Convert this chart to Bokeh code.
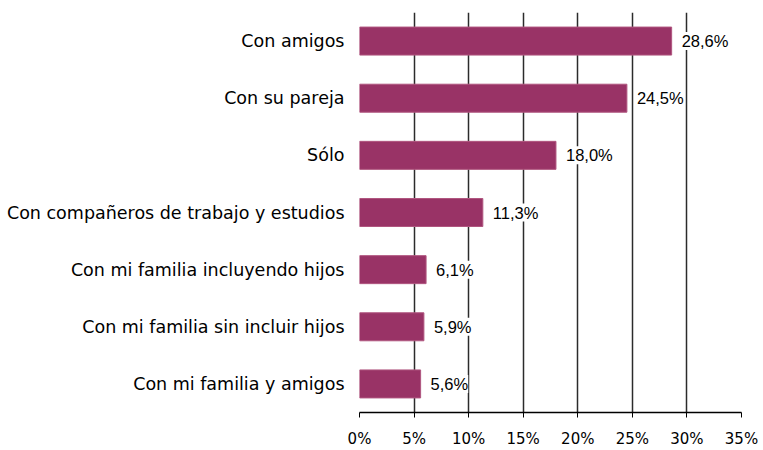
from bokeh.plotting import figure
from bokeh.models import ColumnDataSource, FactorRange, FixedTicker, LabelSet, CustomJSTickFormatter
from bokeh.core.properties import value
from bokeh.embed import file_html
from bokeh.resources import INLINE

categories = ["Con amigos", "Con su pareja", "Sólo",
              "Con compañeros de trabajo y estudios",
              "Con mi familia incluyendo hijos",
              "Con mi familia sin incluir hijos",
              "Con mi familia y amigos"]
values = [28.6, 24.5, 18.0, 11.3, 6.1, 5.9, 5.6]
value_labels = ["28,6%", "24,5%", "18,0%", "11,3%", "6,1%", "5,9%", "5,6%"]
ticks = [0, 5, 10, 15, 20, 25, 30, 35]

src = ColumnDataSource(dict(cat=categories, val=values, lab=value_labels))

p = figure(width=760, height=450, output_backend="svg", toolbar_location=None,
           y_range=FactorRange(factors=list(reversed(categories))),
           x_range=(0, 35), min_border_left=359, min_border_right=19,
           min_border_top=12, min_border_bottom=37)
p.outline_line_color = None
p.background_fill_color = "white"

p.hbar(y="cat", right="val", left=0, height=0.49, source=src,
       fill_color="#993366", line_color="#b0567f", line_width=1)

labels = LabelSet(x="val", y="cat", text="lab", source=src, x_offset=10,
                  text_baseline="middle", text_font=value("Liberation Sans"),
                  text_font_size=value("16.5px"), text_color=value("black"),
                  background_fill_color=value("white"))
p.add_layout(labels)

p.xgrid.ticker = FixedTicker(ticks=ticks[1:])
p.xgrid.grid_line_color = "#2b2b2b"
p.xgrid.grid_line_width = 1.5
p.ygrid.grid_line_color = None
p.xaxis.ticker = FixedTicker(ticks=ticks)
p.xaxis.formatter = CustomJSTickFormatter(code="return tick + '%';")
p.xaxis.axis_line_color = "black"
p.xaxis.axis_line_width = 1.5
p.xaxis.major_tick_line_color = "black"
p.xaxis.major_tick_out = 5
p.xaxis.major_tick_in = 0
p.xaxis.minor_tick_line_color = None
p.xaxis.major_label_text_font = "DejaVu Sans"
p.xaxis.major_label_text_font_size = "15px"
p.xaxis.major_label_text_color = "black"
p.xaxis.major_label_standoff = 12

p.yaxis.axis_line_color = None
p.yaxis.major_tick_line_color = None
p.yaxis.minor_tick_line_color = None
p.yaxis.major_label_text_font = "DejaVu Sans"
p.yaxis.major_label_text_font_size = "17.5px"
p.yaxis.major_label_text_color = "black"
p.yaxis.major_label_standoff = 9

open("out.html", "w").write(file_html(p, INLINE))
